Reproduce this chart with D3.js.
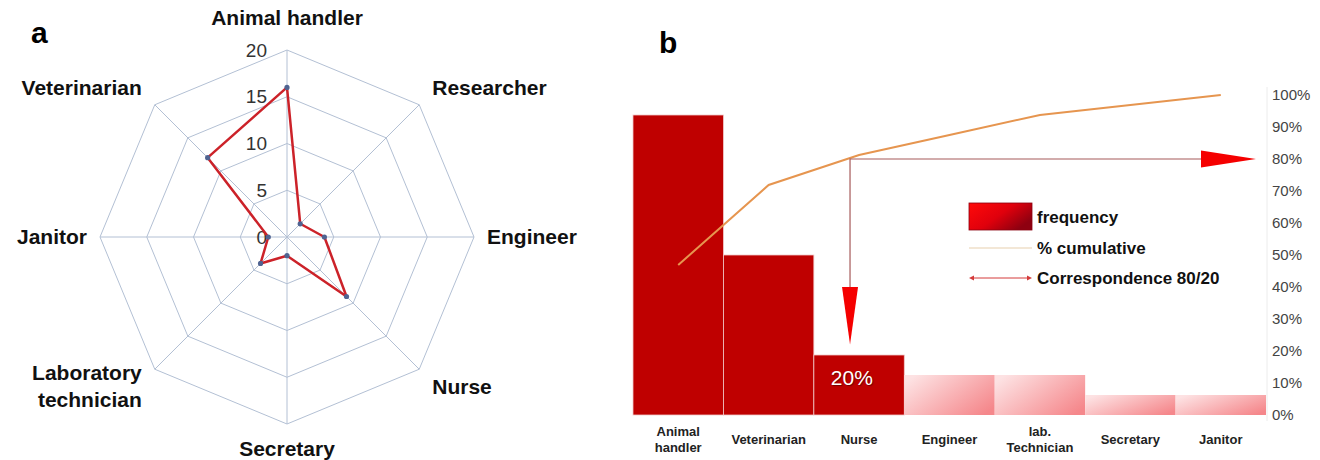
<!DOCTYPE html>
<html>
<head>
<meta charset="utf-8">
<script src="https://cdn.jsdelivr.net/npm/d3@7"></script>
<style>
  body { margin: 0; background: #fff; }
  svg { display: block; font-family: "Liberation Sans", Arial, sans-serif; }
</style>
</head>
<body>
<svg id="chart" width="1320" height="460"></svg>
<script>
// panel a: radar
const radarCats = ['Animal handler', 'Researcher', 'Engineer', 'Nurse', 'Secretary', 'Laboratory\ntechnician', 'Janitor', 'Veterinarian'];
const radarValues = [16, 2, 4, 9, 2, 4, 2, 12];
const radarTicks = [0, 5, 10, 15, 20];

// panel b: pareto
const paretoCats = ['Animal\nhandler', 'Veterinarian', 'Nurse', 'Engineer', 'lab.\nTechnician', 'Secretary', 'Janitor'];
const paretoFreq = [15, 8, 3, 2, 2, 1, 1];
const pctTicks = [0, 0.1, 0.2, 0.3, 0.4, 0.5, 0.6, 0.7, 0.8, 0.9, 1];
const vitalFew = 3;       // first bars that make up ~80%
const cutoff = 0.8;

const svg = d3.select('#chart');

// ---------- radar ----------
const cx = 287, cy = 237, R = 187;
const r = d3.scaleLinear().domain([0, 20]).range([0, R]);
const angle = i => i * 2 * Math.PI / radarCats.length;
const px = (i, v) => cx + r(v) * Math.sin(angle(i));
const py = (i, v) => cy - r(v) * Math.cos(angle(i));

const radar = svg.append('g');

radar.selectAll('polygon.ring')
    .data(radarTicks.filter(t => t > 0))
    .join('polygon')
    .attr('class', 'ring')
    .attr('points', t => radarCats.map((c, i) => `${px(i, t)},${py(i, t)}`).join(' '))
    .attr('fill', 'none')
    .attr('stroke', '#b3c0d4')
    .attr('stroke-width', 1);

radar.selectAll('line.spoke')
    .data(radarCats)
    .join('line')
    .attr('class', 'spoke')
    .attr('x1', cx).attr('y1', cy)
    .attr('x2', (c, i) => px(i, 20))
    .attr('y2', (c, i) => py(i, 20))
    .attr('stroke', '#b3c0d4')
    .attr('stroke-width', 1);

radar.selectAll('text.tick')
    .data(radarTicks)
    .join('text')
    .attr('class', 'tick')
    .attr('x', cx - 20)
    .attr('y', t => cy - r(t))
    .attr('dy', '0.35em')
    .attr('text-anchor', 'end')
    .attr('font-size', 19)
    .attr('fill', '#333')
    .text(t => t);

const radarLine = d3.lineRadial()
    .angle((d, i) => angle(i))
    .radius(d => r(d))
    .curve(d3.curveLinearClosed);

radar.append('path')
    .datum(radarValues)
    .attr('transform', `translate(${cx},${cy})`)
    .attr('d', radarLine)
    .attr('fill', 'none')
    .attr('stroke', '#cc2229')
    .attr('stroke-width', 2.5)
    .attr('stroke-linejoin', 'round');

radar.selectAll('circle.pt')
    .data(radarValues)
    .join('circle')
    .attr('class', 'pt')
    .attr('cx', (v, i) => px(i, v))
    .attr('cy', (v, i) => py(i, v))
    .attr('r', 2.6)
    .attr('fill', '#4f6391');

// category labels round the outer ring
radarCats.forEach((c, i) => {
    const s = Math.round(Math.sin(angle(i)) * 100) / 100;
    const co = Math.round(Math.cos(angle(i)) * 100) / 100;
    let x = px(i, 20), y = py(i, 20), anchor = 'middle';
    if (s > 0) { anchor = 'start'; x += 13; }
    if (s < 0) { anchor = 'end'; x -= 13; }
    if (s === 0) y += co > 0 ? -32 : 25;
    else if (co > 0) y -= 17;
    else if (co < 0) y += 17;
    const lines = c.split('\n');
    const t = radar.append('text')
        .attr('text-anchor', anchor)
        .attr('font-size', 21)
        .attr('font-weight', 'bold')
        .attr('fill', '#111');
    lines.forEach((l, k) => {
        t.append('tspan')
            .attr('x', x)
            .attr('y', y + (k - (lines.length - 1) / 2) * 27)
            .attr('dy', '0.35em')
            .text(l);
    });
});

svg.append('text').attr('x', 31).attr('y', 43)
    .attr('font-size', 30).attr('font-weight', 'bold').text('a');
svg.append('text').attr('x', 659).attr('y', 53)
    .attr('font-size', 30).attr('font-weight', 'bold').text('b');

// ---------- pareto ----------
const x = d3.scaleBand().domain(paretoCats).range([633, 1266]).padding(0);
const y = d3.scaleLinear().domain([0, 16]).range([415, 95]);
const yPct = d3.scaleLinear().domain([0, 1]).range([415, 95]);
const total = d3.sum(paretoFreq);
const cum = Array.from(d3.cumsum(paretoFreq), v => v / total);

const defs = svg.append('defs');
const lightGrad = defs.append('linearGradient').attr('id', 'light')
    .attr('x1', 0).attr('y1', 0.2).attr('x2', 1).attr('y2', 0.8);
lightGrad.append('stop').attr('offset', 0).attr('stop-color', '#fde2e3');
lightGrad.append('stop').attr('offset', 1).attr('stop-color', '#f5878b');
const legGrad = defs.append('linearGradient').attr('id', 'leg')
    .attr('x1', 0).attr('y1', 0).attr('x2', 1).attr('y2', 0.6);
legGrad.append('stop').attr('offset', 0).attr('stop-color', '#ff0a0a');
legGrad.append('stop').attr('offset', 0.55).attr('stop-color', '#e0000c');
legGrad.append('stop').attr('offset', 1).attr('stop-color', '#8e0010');

const pareto = svg.append('g');

pareto.selectAll('rect.bar')
    .data(paretoFreq)
    .join('rect')
    .attr('class', 'bar')
    .attr('x', (d, i) => x(paretoCats[i]))
    .attr('y', d => y(d))
    .attr('width', x.bandwidth())
    .attr('height', d => y(0) - y(d))
    .attr('fill', (d, i) => i < vitalFew ? '#bf0000' : 'url(#light)')
    .attr('stroke', (d, i) => i < vitalFew ? '#f1c9c9' : 'none')
    .attr('stroke-width', 0.8);

// right axis
pareto.append('line')
    .attr('x1', 1267).attr('x2', 1267)
    .attr('y1', yPct(1) - 8).attr('y2', yPct(0) + 6)
    .attr('stroke', '#ececec');

pareto.selectAll('text.pct')
    .data(pctTicks)
    .join('text')
    .attr('class', 'pct')
    .attr('x', 1272)
    .attr('y', d => yPct(d))
    .attr('dy', '0.35em')
    .attr('font-size', 15)
    .attr('fill', '#444')
    .text(d3.format('.0%'));

// category labels
paretoCats.forEach(c => {
    const lines = c.split('\n');
    const t = pareto.append('text')
        .attr('text-anchor', 'middle')
        .attr('font-size', 13)
        .attr('font-weight', 'bold')
        .attr('fill', '#222');
    lines.forEach((l, k) => {
        t.append('tspan')
            .attr('x', x(c) + x.bandwidth() / 2)
            .attr('y', 439 + (k - (lines.length - 1) / 2) * 16)
            .attr('dy', '0.35em')
            .text(l);
    });
});

// cumulative line
const cumLine = d3.line()
    .x((d, i) => x(paretoCats[i]) + x.bandwidth() / 2)
    .y(d => yPct(d));

pareto.append('path')
    .datum(cum)
    .attr('d', cumLine)
    .attr('fill', 'none')
    .attr('stroke', '#e6954f')
    .attr('stroke-width', 2);

// 80/20 arrows
const ax = x(paretoCats[vitalFew - 1]) + x.bandwidth() * 0.4;
const ay = yPct(cutoff);
pareto.append('path')
    .attr('d', `M${1201},${ay} H${ax} V${yPct(0.39)}`)
    .attr('fill', 'none')
    .attr('stroke', '#a65a5a')
    .attr('stroke-width', 1.2);
pareto.append('path')
    .attr('d', `M1201,${ay - 8.5} L1256,${ay} L1201,${ay + 8.5} Z`)
    .attr('fill', '#f50000');
pareto.append('path')
    .attr('d', `M${ax - 8},${yPct(0.4)} L${ax},${yPct(0.22)} L${ax + 8},${yPct(0.4)} Z`)
    .attr('fill', '#f50000');

// 20% label in the nurse bar
pareto.append('text')
    .attr('x', x(paretoCats[vitalFew - 1]) + x.bandwidth() * 0.42)
    .attr('y', 378)
    .attr('dy', '0.35em')
    .attr('text-anchor', 'middle')
    .attr('font-size', 21)
    .attr('fill', '#fff')
    .attr('style', 'text-shadow: 1px 1px 1px rgba(60,0,0,0.6)')
    .text('20%');

// legend
const leg = pareto.append('g').attr('transform', 'translate(969,203)');
leg.append('rect').attr('width', 63).attr('height', 27)
    .attr('fill', 'url(#leg)').attr('stroke', '#8a0010').attr('stroke-width', 0.8);
leg.append('line').attr('x1', 0).attr('x2', 63).attr('y1', 45).attr('y2', 45)
    .attr('stroke', '#e8cfae').attr('stroke-width', 1.2);
leg.append('line').attr('x1', 2).attr('x2', 61).attr('y1', 75).attr('y2', 75)
    .attr('stroke', '#d43a3a').attr('stroke-width', 1);
leg.append('path').attr('d', 'M0,75 L5,72.5 L5,77.5 Z').attr('fill', '#d43a3a');
leg.append('path').attr('d', 'M63,75 L58,72.5 L58,77.5 Z').attr('fill', '#d43a3a');
[['frequency', 14], ['% cumulative', 45], ['Correspondence 80/20', 75]].forEach(([t, yy]) => {
    leg.append('text').attr('x', 68).attr('y', yy).attr('dy', '0.35em')
        .attr('font-size', 17).attr('font-weight', 'bold').attr('fill', '#111').text(t);
});
</script>
</body>
</html>
